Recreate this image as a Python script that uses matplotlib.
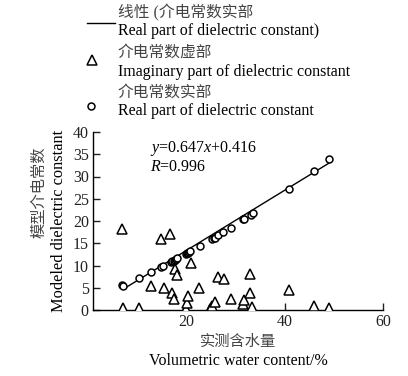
import matplotlib
matplotlib.use("Agg")
import matplotlib.pyplot as plt
from matplotlib.lines import Line2D

plt.rcParams['font.family'] = ['Liberation Serif', 'Noto Sans CJK SC']
plt.rcParams['mathtext.fontset'] = 'custom'
plt.rcParams['mathtext.it'] = 'Liberation Serif:italic'
plt.rcParams['mathtext.rm'] = 'Liberation Serif'

# Real part (circles)
real_x = [6.9, 7.1, 10.3, 12.9, 14.9, 15.3, 16.8, 17.1, 17.4, 17.6, 17.9, 18.1,
          19.9, 20.1, 20.3, 20.5, 20.8, 22.7, 25.2, 25.6, 25.9, 26.5, 27.5, 29.1,
          31.6, 31.8, 33.1, 33.5, 40.9, 46.0, 49.0]
real_y = [5.6, 5.4, 7.3, 8.6, 9.7, 9.9, 10.7, 10.9, 11.0, 11.2, 11.4, 11.6,
          12.6, 12.7, 12.9, 13.0, 13.2, 14.4, 16.0, 16.1, 16.2, 16.8, 17.5, 18.5,
          20.4, 20.4, 21.3, 21.7, 27.3, 31.3, 33.9]

# Imaginary part (triangles)
imag_x = [6.9, 7.1, 10.3, 12.9, 14.8, 15.4, 16.7, 17.1, 17.4, 17.7, 18.1,
          20.0, 20.2, 20.4, 20.9, 22.5, 24.8, 25.0, 25.3, 25.9, 26.4, 27.7,
          29.0, 31.5, 31.7, 33.0, 33.0, 33.4, 40.9, 45.9, 49.0]
imag_y = [18.2, 0.5, 0.4, 5.4, 16.0, 4.9, 17.1, 3.9, 2.4, 9.2, 7.9,
          0.2, 1.5, 3.2, 10.5, 5.0, 0.2, 0.4, 0.8, 1.7, 7.5, 7.0,
          2.5, 1.3, 2.2, 8.1, 3.9, 0.7, 4.5, 0.8, 0.4]

# Linear fit line
fit_x = [7.1, 49.0]
fit_y = [4.65, 33.0]

xticks = [20, 40, 60]
yticks = [0, 5, 10, 15, 20, 25, 30, 35, 40]

W, H = 408, 376
fig = plt.figure(figsize=(W / 100, H / 100), dpi=100)
ax = fig.add_axes([93 / W, 66 / H, 290 / W, 178 / H])

ax.plot(fit_x, fit_y, color='black', lw=1.0, zorder=2)
ax.plot(real_x, real_y, linestyle='none', marker='o', ms=5, mfc='white',
        mec='black', mew=1.1, zorder=3)
ax.plot(imag_x, imag_y, linestyle='none', marker='^', ms=6.5, mfc='white',
        mec='black', mew=1.1, zorder=3)

ax.set_xlim(1, 60)
ax.set_ylim(0, 40)
ax.set_xticks(xticks)
ax.set_yticks(yticks)
for s in ['top', 'right']:
    ax.spines[s].set_visible(False)
for s in ['left', 'bottom']:
    ax.spines[s].set_linewidth(1.0)
ax.tick_params(direction='in', length=5, width=1.0, labelsize=11.5, pad=3, colors='#222222')

ax.text(12.5, 35.6, r'$y$=0.647$x$+0.416', fontsize=11.5)
ax.text(12.5, 31.3, r'$R$=0.996', fontsize=11.5)

# Axis labels
fig.text(238 / W, 1 - 342 / H, '实测含水量', ha='center', va='center', fontsize=11, color='#444444')
fig.text(238 / W, 1 - 361 / H, 'Volumetric water content/%', ha='center', va='center', fontsize=11.5)
fig.text(39 / W, 1 - 192 / H, '模型介电常数', ha='center', va='center', rotation=90, fontsize=11, color='#444444')
fig.text(59 / W, 1 - 221 / H, 'Modeled dielectric constant', ha='center', va='center', rotation=90, fontsize=11.8)

# Legend (figure coordinates)
fig.add_artist(Line2D([87 / W, 115 / W], [1 - 22.5 / H, 1 - 22.5 / H], color='black', lw=1.0))
fig.add_artist(Line2D([92 / W], [1 - 60 / H], linestyle='none', marker='^', ms=6.5,
                      mfc='white', mec='black', mew=1.1))
fig.add_artist(Line2D([91 / W], [1 - 106 / H], linestyle='none', marker='o', ms=5,
                      mfc='white', mec='black', mew=1.1))
lx = 118 / W
fig.text(lx, 1 - 13 / H, '线性 (介电常数实部', ha='left', va='center', fontsize=11.3, color='#444444')
fig.text(lx, 1 - 31 / H, 'Real part of dielectric constant)', ha='left', va='center', fontsize=11.5)
fig.text(lx, 1 - 53 / H, '介电常数虚部', ha='left', va='center', fontsize=11.3, color='#444444')
fig.text(lx, 1 - 72 / H, 'Imaginary part of dielectric constant', ha='left', va='center', fontsize=11.5)
fig.text(lx, 1 - 93 / H, '介电常数实部', ha='left', va='center', fontsize=11.3, color='#444444')
fig.text(lx, 1 - 111 / H, 'Real part of dielectric constant', ha='left', va='center', fontsize=11.5)

fig.savefig('out.png', dpi=100)
